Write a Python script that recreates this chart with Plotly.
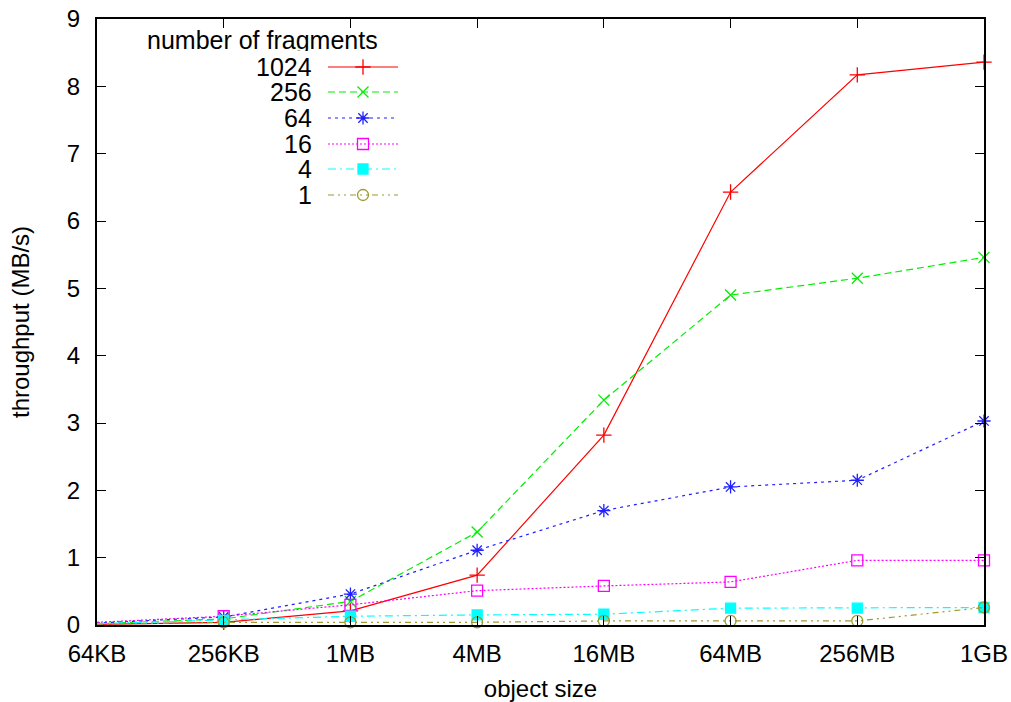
import plotly.graph_objects as go

# object sizes (bytes) and their tick labels
sizes = [2**16, 2**18, 2**20, 2**22, 2**24, 2**26, 2**28, 2**30]
size_labels = ["64KB", "256KB", "1MB", "4MB", "16MB", "64MB", "256MB", "1GB"]

# throughput in MB/s for each number of fragments
fragments = ["1024", "256", "64", "16", "4", "1"]
tp_1024 = [0.01, 0.04, 0.21, 0.74, 2.82, 6.43, 8.17, 8.36]
tp_256 = [0.02, 0.09, 0.35, 1.38, 3.34, 4.90, 5.15, 5.46]
tp_64 = [0.03, 0.12, 0.46, 1.11, 1.70, 2.05, 2.15, 3.03]
tp_16 = [0.04, 0.13, 0.30, 0.51, 0.58, 0.64, 0.96, 0.96]
tp_4 = [0.02, 0.07, 0.13, 0.15, 0.16, 0.25, 0.25, 0.26]
tp_1 = [0.01, 0.04, 0.04, 0.04, 0.06, 0.06, 0.06, 0.26]
series = [tp_1024, tp_256, tp_64, tp_16, tp_4, tp_1]

colors = ["#ff0000", "#00ee00", "#2020ff", "#ff00ff", "#00ffff", "#9c9a30"]
dashes = ["solid", "7px,4px", "3px,4px", "2px,2px", "8px,4px,2px,4px", "6px,4px,2px,4px,2px,4px"]
symbols = ["cross-thin-open", "x-thin-open", "asterisk-open", "square-open", "square", "circle-open"]
msizes = [11, 11, 11, 11, 10, 11]

FONT = "Liberation Sans, Arial, sans-serif"
FS = 25
W, H = 1011, 702
L, R, T, B = 97, 27, 19, 77
PW, PH = W - L - R, H - T - B

fig = go.Figure()

for name, ys, c, d, s, ms in zip(fragments, series, colors, dashes, symbols, msizes):
    fig.add_trace(go.Scatter(
        x=sizes, y=ys, mode="lines+markers", name=name, showlegend=False,
        line=dict(color=c, width=1.2, dash=d),
        marker=dict(symbol=s, size=ms, color=c, line=dict(color=c, width=1.3)),
        cliponaxis=False,
    ))

# key drawn on an overlay axis measured in pixels from the plot's lower-left corner
key_rows = [558, 533, 507, 481, 456, 430]
for name, yk, c, d, s, ms in zip(fragments, key_rows, colors, dashes, symbols, msizes):
    fig.add_trace(go.Scatter(
        x=[231, 266, 301], y=[yk, yk, yk], mode="lines", showlegend=False,
        xaxis="x2", yaxis="y2", hoverinfo="skip",
        line=dict(color=c, width=1.2, dash=d),
    ))
    fig.add_trace(go.Scatter(
        x=[266], y=[yk], mode="markers", showlegend=False,
        xaxis="x2", yaxis="y2", hoverinfo="skip",
        marker=dict(symbol=s, size=ms, color=c, line=dict(color=c, width=1.3)),
    ))
    fig.add_annotation(x=216, y=yk, xref="x2", yref="y2", text=name,
                       showarrow=False, xanchor="right", yanchor="middle",
                       height=22, borderpad=0, valign="middle",
                       font=dict(family=FONT, size=FS, color="black"))

fig.add_annotation(x=165, y=585, xref="x2", yref="y2", text="number of fragments",
                   showarrow=False, xanchor="center", yanchor="middle",
                   height=22, borderpad=0,
                   font=dict(family=FONT, size=FS, color="black"))

axis_common = dict(
    showgrid=False, zeroline=False, showline=True, linecolor="black", linewidth=2,
    mirror="ticks", ticks="inside", ticklen=9, tickwidth=1, tickcolor="black",
    tickfont=dict(family=FONT, size=FS - 1, color="black"), automargin=False,
)

fig.update_layout(
    width=W, height=H,
    margin=dict(l=L, r=R, t=T, b=B, autoexpand=False),
    paper_bgcolor="white", plot_bgcolor="white",
    xaxis=dict(
        type="log", range=[4.8165, 9.0309],
        tickvals=sizes, ticktext=size_labels, ticklabelstandoff=6,
        title=dict(text="object size", standoff=16,
                   font=dict(family=FONT, size=FS - 1, color="black")),
        **axis_common,
    ),
    yaxis=dict(
        range=[0, 9], tickvals=list(range(10)), ticklabelstandoff=10,
        title=dict(text="throughput (MB/s)", standoff=30,
                   font=dict(family=FONT, size=FS - 1, color="black")),
        **axis_common,
    ),
    xaxis2=dict(overlaying="x", range=[0, PW], visible=False, fixedrange=True),
    yaxis2=dict(overlaying="y", range=[0, PH], visible=False, fixedrange=True),
    showlegend=False,
)

fig.write_html("out.html")
